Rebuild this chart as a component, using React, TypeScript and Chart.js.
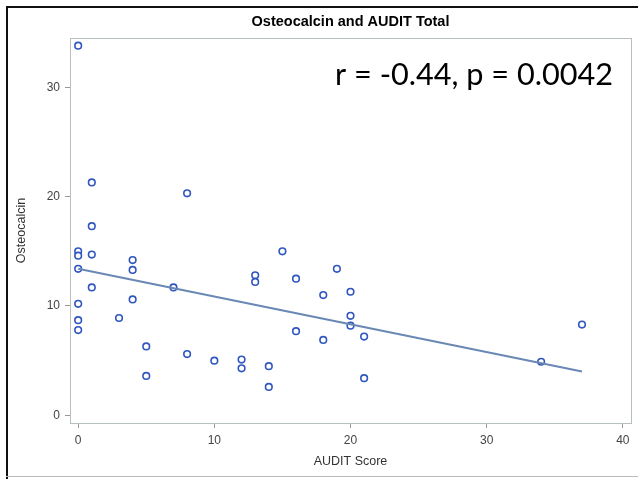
import React, { useEffect, useRef } from "react";
import { Chart, registerables } from "chart.js";

Chart.register(...registerables);

const chartTitle = "Osteocalcin and AUDIT Total";
const xTitle = "AUDIT Score";
const yTitle = "Osteocalcin";
const annotation = "r = -0.44, p = 0.0042";

const auditScore = [0, 1, 8, 1, 0, 0, 1, 4, 15, 0, 4, 13, 13, 16, 1, 7, 0, 4, 3, 0, 0, 16, 5, 8, 10, 12, 12, 14, 5, 14, 19, 18, 20, 20, 20, 18, 21, 21, 34, 37];
const osteocalcin = [33.8, 21.3, 20.3, 17.3, 15.0, 14.6, 14.7, 14.2, 15.0, 13.4, 13.3, 12.8, 12.2, 12.5, 11.7, 11.7, 10.2, 10.6, 8.9, 8.7, 7.8, 7.7, 6.3, 5.6, 5.0, 5.1, 4.3, 4.5, 3.6, 2.6, 13.4, 11.0, 11.3, 9.1, 8.2, 6.9, 7.2, 3.4, 4.9, 8.3];

const fitX = [0, 37];
const fitY = [13.4, 4.0];

const xTicks = [0, 10, 20, 30, 40];
const yTicks = [0, 10, 20, 30];

export default function App() {
  const ref = useRef<HTMLCanvasElement | null>(null);
  useEffect(() => {
    if (!ref.current) return;
    const decor = {
      id: "decor",
      afterDraw(chart: any) {
        const { ctx, chartArea: a } = chart;
        ctx.save();
        // plot box
        ctx.strokeStyle = "#b7c0c0";
        ctx.lineWidth = 1;
        ctx.strokeRect(Math.round(a.left) + 0.5, Math.round(a.top) + 0.5, Math.round(a.right - a.left), Math.round(a.bottom - a.top));
        // outer frame
        ctx.fillStyle = "#111";
        ctx.fillRect(6, 6, 632, 2);
        ctx.fillRect(6, 6, 2, 473);
        ctx.fillStyle = "#bbb";
        ctx.fillRect(6, 476, 632, 1);
        // title
        const cx = (a.left + a.right) / 2;
        ctx.fillStyle = "#000";
        ctx.font = "bold 14.5px 'Liberation Sans', Arial, sans-serif";
        ctx.textAlign = "center";
        ctx.textBaseline = "middle";
        ctx.fillText(chartTitle, cx, 22);
        // axis titles
        ctx.fillStyle = "#333";
        ctx.font = "12.5px 'Liberation Sans', Arial, sans-serif";
        ctx.fillText(xTitle, cx, 462);
        ctx.save();
        ctx.translate(22, (a.top + a.bottom) / 2);
        ctx.rotate(-Math.PI / 2);
        ctx.fillText(yTitle, 0, 0);
        ctx.restore();
        // annotation
        ctx.font = "30px Lato, 'Open Sans', sans-serif";
        const w = ctx.measureText(annotation).width;
        const size = 30 * 278 / w;
        ctx.font = `${size}px Lato, 'Open Sans', sans-serif`;
        ctx.fillStyle = "#000";
        ctx.textAlign = "right";
        ctx.textBaseline = "alphabetic";
        ctx.fillText(annotation, a.right - 18, 85);
        ctx.restore();
      },
    };
    const tickFont = { size: 12, family: "'Liberation Sans', Arial, sans-serif" };
    const chart = new Chart(ref.current, {
      type: "scatter",
      data: {
        datasets: [
          {
            type: "line",
            data: fitX.map((x, i) => ({ x, y: fitY[i] })),
            borderColor: "#6a88b4",
            borderWidth: 2,
            pointRadius: 0,
            fill: false,
          } as any,
          {
            data: auditScore.map((x, i) => ({ x, y: osteocalcin[i] })),
            borderColor: "#3056c0",
            backgroundColor: "#ffffff",
            pointRadius: 3.3,
            pointBorderWidth: 1.6,
          },
        ],
      },
      plugins: [decor],
      options: {
        animation: false,
        responsive: false,
        events: [],
        layout: { padding: { top: 38, right: 7, left: 0, bottom: 0 } },
        plugins: { legend: { display: false }, title: { display: false }, tooltip: { enabled: false } },
        scales: {
          x: {
            type: "linear",
            min: -0.6,
            max: 40.6,
            afterBuildTicks: (s: any) => { s.ticks = xTicks.map((v) => ({ value: v })); },
            afterFit: (s: any) => { s.height = 56; },
            grid: { drawOnChartArea: false, drawTicks: true, tickLength: 5, color: "#999" },
            border: { display: false },
            ticks: { color: "#444", padding: 5, font: tickFont },
          },
          y: {
            type: "linear",
            min: -0.7,
            max: 34.5,
            afterBuildTicks: (s: any) => { s.ticks = yTicks.map((v) => ({ value: v })); },
            afterFit: (s: any) => { s.width = 70; },
            grid: { drawOnChartArea: false, drawTicks: true, tickLength: 5, color: "#999" },
            border: { display: false },
            ticks: { color: "#444", padding: 5, font: tickFont },
          },
        },
      },
    });
    return () => chart.destroy();
  }, []);
  return (
    <div style={{ position: "fixed", left: 0, top: 0, width: 638, height: 479, background: "#fff" }}>
      <canvas ref={ref} width={638} height={479} style={{ display: "block" }} />
    </div>
  );
}
